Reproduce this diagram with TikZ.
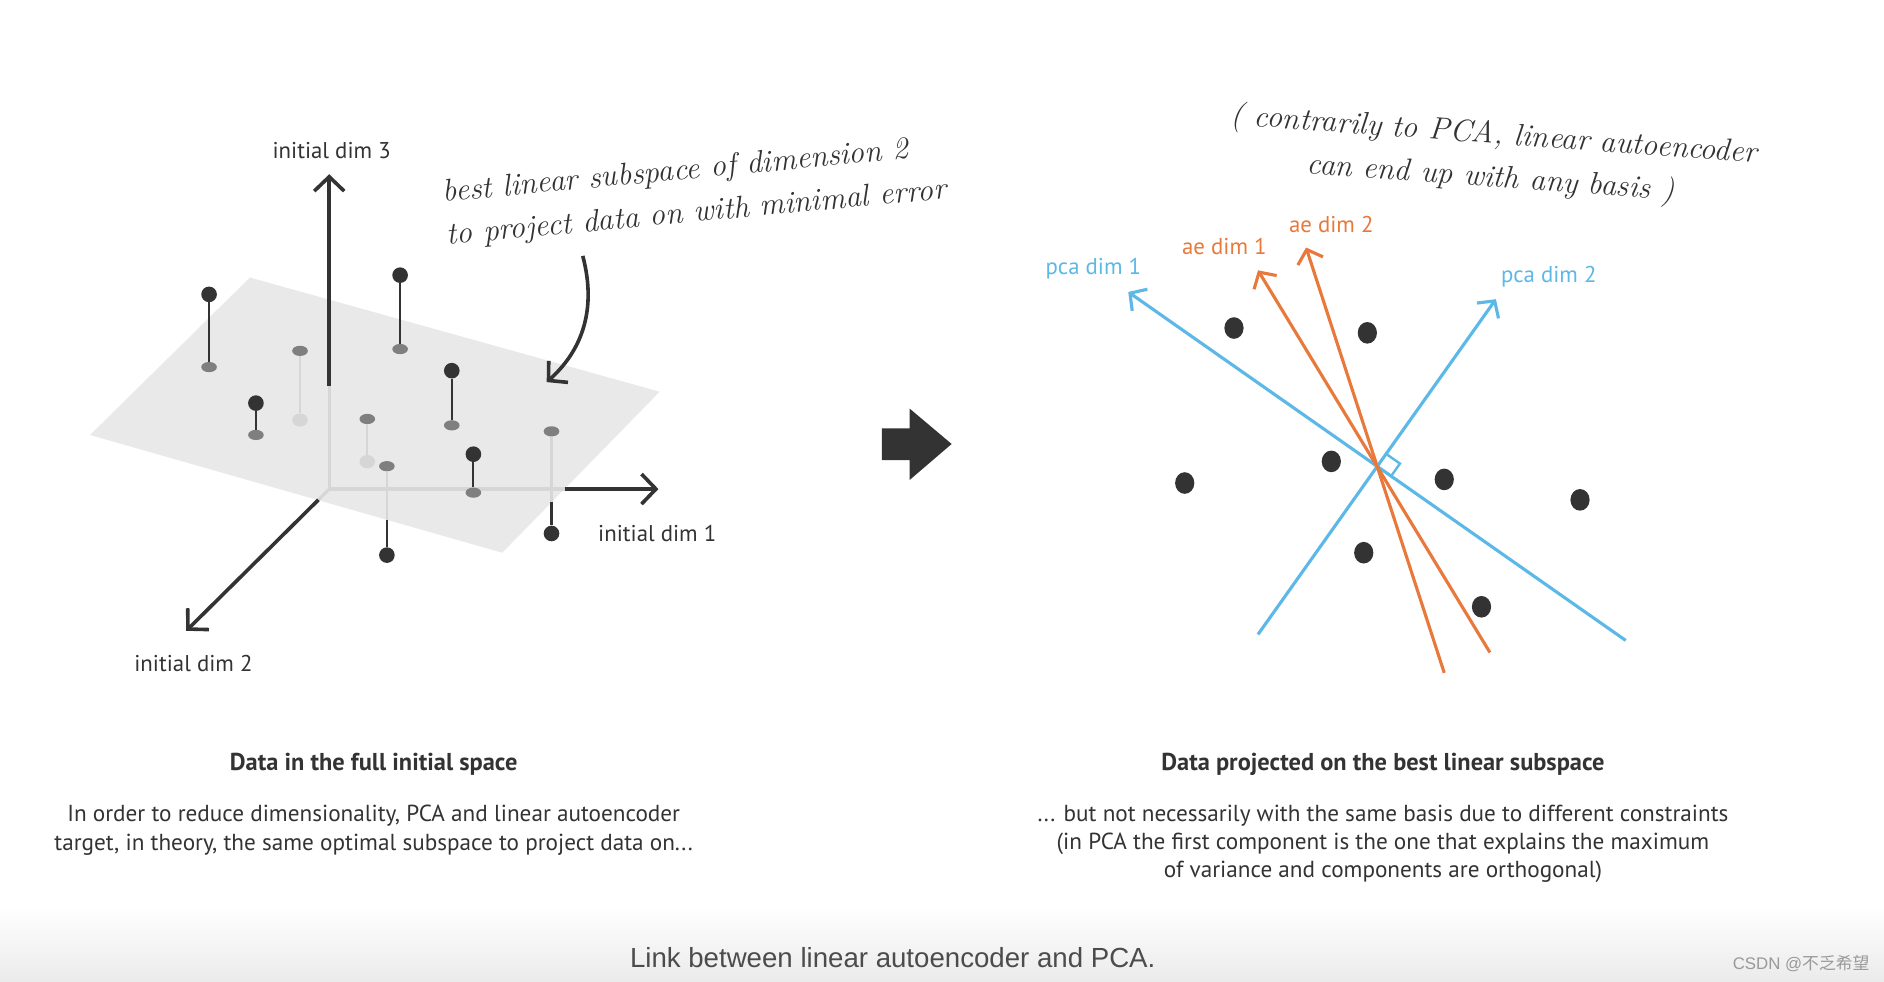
\documentclass[tikz,border=0pt]{standalone}
\usepackage{fontspec}
\newfontfamily\labelfont{PT Sans}
\newfontfamily\capfont{Liberation Sans}
\newfontfamily\cjkfont{Noto Sans CJK SC}
\usetikzlibrary{arrows.meta,calc,shapes.geometric}
\definecolor{ink}{HTML}{333333}
\definecolor{pcablue}{HTML}{5CB8E6}
\definecolor{aeorange}{HTML}{E8793B}
\definecolor{planegray}{HTML}{E9E9E9}
\definecolor{projgray}{HTML}{7F7F7F}
\definecolor{ghostgray}{HTML}{D6D6D6}

\begin{document}
\begin{tikzpicture}[x=1pt, y=-1pt,
    dot/.style={circle, fill=ink, inner sep=0pt, minimum size=13pt},
    proj/.style={ellipse, fill=projgray, inner sep=0pt, minimum width=13pt, minimum height=8.5pt},
    ghost/.style={ellipse, fill=ghostgray, inner sep=0pt, minimum width=13pt, minimum height=11pt},
    bigdot/.style={ellipse, fill=ink, inner sep=0pt, minimum width=16pt, minimum height=18pt},
    stem/.style={draw=ink, line width=1.7pt},
    faint/.style={draw=ghostgray, line width=1.7pt},
    flat/.style={draw=ghostgray, line width=2.6pt},
    axis/.style={draw=ink, line width=3pt, -{Straight Barb[length=12pt, width=25pt]}},
    pca/.style={draw=pcablue, line width=2.6pt, -{Straight Barb[length=10pt, width=22pt]}},
    ae/.style={draw=aeorange, line width=2.6pt, -{Straight Barb[length=10pt, width=22pt]}},
    lbl/.style={font=\labelfont\fontsize{19}{22}\selectfont, text=ink, inner sep=0pt},
    head/.style={font=\labelfont\bfseries\fontsize{20.3}{24}\selectfont, text=ink, inner sep=0pt},
    body/.style={font=\labelfont\fontsize{19.3}{23.5}\selectfont, text=ink, align=center, inner sep=0pt},
    hand/.style={font=\itshape\fontsize{26}{36}\selectfont, text=ink, inner sep=0pt}]

    \useasboundingbox (0,0) rectangle (1568,817);
    \fill[white] (0,0) rectangle (1568,817);
    \shade[top color=white, bottom color=black!8] (0,755) rectangle (1568,817);

    \begin{scope}
      \fill[planegray] (208,231) -- (549,326) -- (418,460) -- (75,362) -- cycle;

      \coordinate (O) at (274,407);
      \coordinate (a3) at (274,145);
      \coordinate (a3b) at (274,321);
      \coordinate (a1) at (548,407);
      \coordinate (a1b) at (470,407);
      \coordinate (a2) at (155,525);
      \coordinate (a2b) at (265,416);
      \draw[flat] (a3b) -- (O) -- (a1b);
      \draw[flat] (O) -- (a2b);
      \draw[axis] (a3b) -- (a3);
      \draw[axis] (a1b) -- (a1);
      \draw[axis] (a2b) -- (a2);

      \node[lbl] (l3) at (276,125) {initial dim 3};
      \node[lbl] (l1) at (547,444) {initial dim 1};
      \node[lbl] (l2) at (161,552) {initial dim 2};

      \node[ghost] (g1) at (249.7,349.6) {};
      \node[proj] (q1) at (249.7,292) {};
      \node[ghost] (g2) at (305.7,384.2) {};
      \node[proj] (q2) at (305.7,348.7) {};
      \draw[faint] (q1) -- (g1);
      \draw[faint] (q2) -- (g2);

      \node[dot] (d1) at (174,245) {};
      \node[proj] (p1) at (174,305.5) {};
      \node[dot] (d2) at (333,229) {};
      \node[proj] (p2) at (333,290.5) {};
      \node[dot] (d3) at (376,308.5) {};
      \node[proj] (p3) at (376,354) {};
      \node[dot] (d4) at (213,335.5) {};
      \node[proj] (p4) at (213,362) {};
      \node[dot] (d5) at (394,378) {};
      \node[proj] (p5) at (394,410) {};
      \node[dot] (d6) at (459,444) {};
      \node[proj] (p6) at (459,359) {};
      \node[dot] (d7) at (322,462) {};
      \node[proj] (p7) at (322,388) {};
      \coordinate (e6) at (459,418);
      \coordinate (e7) at (322,433);
      \draw[stem] (d1) -- (p1);
      \draw[stem] (d2) -- (p2);
      \draw[stem] (d3) -- (p3);
      \draw[stem] (d4) -- (p4);
      \draw[stem] (d5) -- (p5);
      \draw[faint] (p6) -- (e6);
      \draw[stem] (e6) -- (d6);
      \draw[faint] (p7) -- (e7);
      \draw[stem] (e7) -- (d7);

      \node[hand, rotate=5.3, align=left] (n1) at (578,160)
        {best linear subspace of dimension 2\\to project data on with minimal error};
      \coordinate (c1) at (485,213);
      \coordinate (c2) at (455,318);
      \draw[ink, line width=3pt, -{Straight Barb[length=11pt, width=24pt]}]
        (c1) .. controls (497,258) and (484,292) .. (c2);

      \node[head] (h1) at (311,636) {Data in the full initial space};
      \node[body] (b1) at (311,691) {In order to reduce dimensionality, PCA and linear autoencoder\\target, in theory, the same optimal subspace to project data on...};
    \end{scope}

    \fill[ink] (734,356.5) -- (757,356.5) -- (757,340) -- (792,369.5) -- (757,399.5) -- (757,383) -- (734,383) -- cycle;

    \begin{scope}
      \coordinate (c) at (1147,389);
      \coordinate (s1) at (1353,533);
      \coordinate (t1) at (939,243);
      \coordinate (s2) at (1047,528);
      \coordinate (t2) at (1245,249);
      \coordinate (s3) at (1240,543);
      \coordinate (t3) at (1047,225);
      \coordinate (s4) at (1202,560);
      \coordinate (t4) at (1087,206);

      \node[bigdot] (r1) at (1027,273) {};
      \node[bigdot] (r2) at (1138,277) {};
      \node[bigdot] (r3) at (1108,384) {};
      \node[bigdot] (r4) at (986,402) {};
      \node[bigdot] (r5) at (1202,399) {};
      \node[bigdot] (r6) at (1315,416) {};
      \node[bigdot] (r7) at (1135,460) {};
      \node[bigdot] (r8) at (1233,505) {};

      \draw[pca] (s1) -- (t1);
      \draw[pca] (s2) -- (t2);
      \coordinate (m2) at ($(c)!13pt!(t2)$);
      \coordinate (m1) at ($(c)!13pt!(s1)$);
      \draw[pcablue, line width=2pt] (m2) -- ($(m2)+(m1)-(c)$) -- (m1);
      \draw[ae] (s3) -- (t3);
      \draw[ae] (s4) -- (t4);

      \node[lbl, text=pcablue] (lp1) at (910,224) {pca dim 1};
      \node[lbl, text=aeorange] (la1) at (1019,205) {ae dim 1};
      \node[lbl, text=aeorange] (la2) at (1108,187) {ae dim 2};
      \node[lbl, text=pcablue] (lp2) at (1289,230) {pca dim 2};

      \node[hand, rotate=-4.2, align=center] (n2) at (1242,131)
        {( contrarily to PCA, linear autoencoder\\can end up with any basis )};

      \node[head] (h2) at (1151,636) {Data projected on the best linear subspace};
      \node[body] (b2) at (1151,702.5) {... but not necessarily with the same basis due to different constraints\\(in PCA the first component is the one that explains the maximum\\of variance and components are orthogonal)};
    \end{scope}

    \node[font=\capfont\fontsize{23}{26}\selectfont, text=black!70, inner sep=0pt] (cap) at (743,797) {Link between linear autoencoder and PCA.};
    \node[font=\capfont\fontsize{14}{16}\selectfont, text=black!40, inner sep=0pt] (wm) at (1499,802) {CSDN @{\cjkfont 不乏希望}};
\end{tikzpicture}
\end{document}
